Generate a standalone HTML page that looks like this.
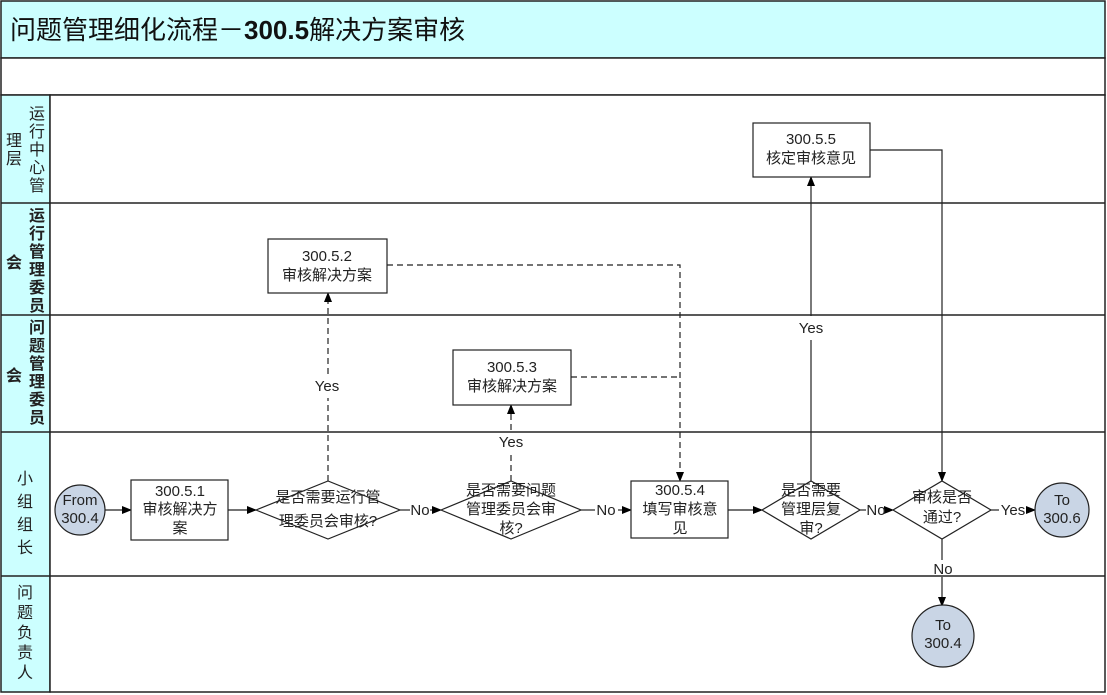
<!DOCTYPE html>
<html><head><meta charset="utf-8"><style>
html,body{margin:0;padding:0;background:#fff}
svg{display:block;font-family:"Liberation Sans","Noto Sans CJK SC",sans-serif;font-size:15px}
text{fill:#222}
.l{font-size:16px}
</style></head><body>
<svg width="1107" height="695" viewBox="0 0 1107 695">
<defs><marker id="a" markerWidth="10" markerHeight="8" refX="9" refY="4" orient="auto" markerUnits="userSpaceOnUse"><path d="M0,0 L10,4 L0,8 z" fill="#000"/></marker></defs>
<rect x="1" y="1" width="1104" height="57" fill="#ccffff" stroke="#222" stroke-width="1.5"/>
<text x="10" y="39" style="font-size:26px;fill:#111">问题管理细化流程－<tspan font-weight="bold">300.5</tspan>解决方案审核</text>
<rect x="1" y="58" width="1104" height="37" fill="#fff" stroke="#222" stroke-width="1.5"/>
<rect x="1" y="95" width="49" height="597" fill="#ccffff" stroke="#222" stroke-width="1.5"/>
<rect x="50" y="95" width="1055" height="597" fill="#fff" stroke="#222" stroke-width="1.5"/>
<g stroke="#222" stroke-width="1.5">
<line x1="1" y1="203" x2="1105" y2="203"/><line x1="1" y1="315" x2="1105" y2="315"/>
<line x1="1" y1="432" x2="1105" y2="432"/><line x1="1" y1="576" x2="1105" y2="576"/>
</g>
<g class="l" text-anchor="middle">
<text x="37" y="119">运</text><text x="37" y="137">行</text><text x="37" y="155">中</text><text x="37" y="173">心</text><text x="37" y="191">管</text>
<text x="14" y="146">理</text><text x="14" y="164">层</text>
<g font-weight="bold"><text x="37" y="221">运</text><text x="37" y="239">行</text><text x="37" y="257">管</text><text x="37" y="275">理</text><text x="37" y="293">委</text><text x="37" y="311">员</text>
<text x="14" y="268">会</text>
<text x="37" y="333">问</text><text x="37" y="351">题</text><text x="37" y="369">管</text><text x="37" y="387">理</text><text x="37" y="405">委</text><text x="37" y="423">员</text>
<text x="14" y="381">会</text></g>
<text x="25" y="484">小</text><text x="25" y="507">组</text><text x="25" y="530">组</text><text x="25" y="553">长</text>
<text x="25" y="598">问</text><text x="25" y="618">题</text><text x="25" y="638">负</text><text x="25" y="658">责</text><text x="25" y="678">人</text>
</g>
<g stroke="#222" stroke-width="1.2" fill="none">
<line x1="105" y1="510" x2="131" y2="510" marker-end="url(#a)"/>
<line x1="228" y1="510" x2="256" y2="510" marker-end="url(#a)"/>
<line x1="400" y1="510" x2="410" y2="510"/><line x1="430" y1="510" x2="441" y2="510" marker-end="url(#a)"/>
<line x1="581" y1="510" x2="595" y2="510"/><line x1="618" y1="510" x2="631" y2="510" marker-end="url(#a)"/>
<line x1="728" y1="510" x2="762" y2="510" marker-end="url(#a)"/>
<line x1="860" y1="510" x2="866" y2="510"/><line x1="887" y1="510" x2="893" y2="510" marker-end="url(#a)"/>
<line x1="991" y1="510" x2="999" y2="510"/><line x1="1028" y1="510" x2="1035" y2="510" marker-end="url(#a)"/>
<line x1="942" y1="539" x2="942" y2="560"/><line x1="942" y1="577" x2="942" y2="606" marker-end="url(#a)"/>
<g stroke-dasharray="6,4">
<line x1="328" y1="481" x2="328" y2="398"/><line x1="328" y1="374" x2="328" y2="293" marker-end="url(#a)"/>
<polyline points="387,265 680,265 680,481" marker-end="url(#a)"/>
<line x1="511" y1="481" x2="511" y2="454"/><line x1="511" y1="430" x2="511" y2="405" marker-end="url(#a)"/>
<line x1="571" y1="377" x2="680" y2="377"/>
</g>
<line x1="811" y1="481" x2="811" y2="340"/><line x1="811" y1="316" x2="811" y2="177" marker-end="url(#a)"/>
<polyline points="870,150 942,150 942,481" marker-end="url(#a)"/>
</g>
<g stroke="#222" stroke-width="1.2" fill="#fff">
<rect x="131" y="480" width="97" height="60"/>
<polygon points="256,510 328,481 400,510 328,539"/>
<polygon points="441,510 511,481 581,510 511,539"/>
<rect x="631" y="481" width="97" height="57"/>
<polygon points="762,510 811,481 860,510 811,539"/>
<polygon points="893,510 942,481 991,510 942,539"/>
<rect x="268" y="239" width="119" height="54"/>
<rect x="453" y="350" width="118" height="55"/>
<rect x="753" y="123" width="117" height="54"/>
</g>
<g stroke="#222" stroke-width="1.2" fill="#c9d5e5">
<circle cx="80" cy="510" r="25"/><circle cx="1062" cy="510" r="27"/><circle cx="943" cy="636" r="31"/>
</g>
<g text-anchor="middle">
<text x="80" y="505">From</text><text x="80" y="523">300.4</text>
<text x="1062" y="505">To</text><text x="1062" y="523">300.6</text>
<text x="943" y="630">To</text><text x="943" y="648">300.4</text>
<text x="180" y="496">300.5.1</text><text x="180" y="514">审核解决方</text><text x="180" y="533">案</text>
<text x="328" y="502">是否需要运行管</text><text x="328" y="526">理委员会审核?</text>
<text x="511" y="495">是否需要问题</text><text x="511" y="514">管理委员会审</text><text x="511" y="533">核?</text>
<text x="680" y="495">300.5.4</text><text x="680" y="514">填写审核意</text><text x="680" y="533">见</text>
<text x="811" y="495">是否需要</text><text x="811" y="514">管理层复</text><text x="811" y="533">审?</text>
<text x="942" y="502">审核是否</text><text x="942" y="522">通过?</text>
<text x="327" y="261">300.5.2</text><text x="327" y="280">审核解决方案</text>
<text x="512" y="372">300.5.3</text><text x="512" y="391">审核解决方案</text>
<text x="811" y="144">300.5.5</text><text x="811" y="163">核定审核意见</text>
<text x="327" y="391">Yes</text><text x="511" y="447">Yes</text><text x="811" y="333">Yes</text>
<text x="420" y="515">No</text><text x="606" y="515">No</text><text x="876" y="515">No</text>
<text x="1013" y="515">Yes</text><text x="943" y="574">No</text>
</g>
</svg>
</body></html>
